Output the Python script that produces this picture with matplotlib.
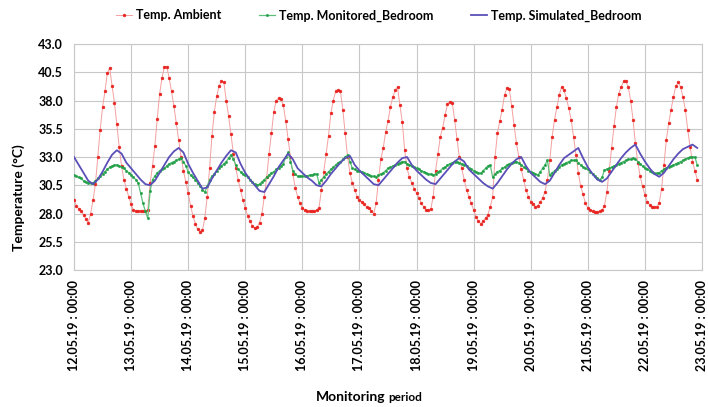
import matplotlib
matplotlib.use("Agg")
import matplotlib.pyplot as plt
import numpy as np

plt.rcParams['font.family'] = ['Lato', 'DejaVu Sans']

# hourly ambient temperature, one row per day (12.05 .. 22.05)
ambient = [
    29.2, 28.7, 28.4, 28.2, 27.9, 27.5, 27.2, 28.0, 29.2, 30.6, 33.0, 35.4, 37.4, 38.8, 40.4, 40.9, 39.3, 37.8, 35.9, 33.9, 32.2, 31.0, 30.2, 29.5,
    28.8, 28.3, 28.2, 28.2, 28.2, 28.2, 28.2, 28.3, 30.7, 32.2, 34.0, 36.4, 38.6, 40.0, 41.0, 41.0, 40.0, 38.8, 37.5, 36.0, 34.5, 33.0, 31.8, 30.8,
    29.8, 28.7, 27.8, 27.1, 26.6, 26.4, 26.5, 27.6, 29.5, 32.0, 34.9, 37.0, 38.4, 39.3, 39.7, 39.6, 38.0, 36.6, 35.0, 33.3, 32.0, 31.0, 30.1, 29.2,
    28.5, 27.8, 27.3, 26.9, 26.7, 26.8, 27.2, 28.0, 29.5, 31.2, 33.3, 35.1, 37.0, 38.0, 38.2, 38.1, 37.6, 36.2, 34.6, 33.0, 31.5, 30.3, 29.5, 28.9,
    28.5, 28.3, 28.2, 28.2, 28.2, 28.2, 28.3, 28.5, 30.1, 31.7, 33.3, 34.9, 36.9, 38.0, 38.8, 38.9, 38.8, 37.2, 35.1, 33.0, 31.6, 30.7, 30.1, 29.5,
    29.2, 29.0, 28.8, 28.6, 28.5, 28.2, 28.0, 28.9, 31.0, 32.8, 33.8, 35.2, 36.2, 37.4, 38.3, 38.9, 39.2, 37.6, 36.1, 33.6, 32.0, 31.2, 30.7, 30.2,
    29.8, 29.4, 28.9, 28.6, 28.3, 28.3, 28.4, 29.5, 31.8, 33.3, 34.8, 35.6, 36.7, 37.7, 37.9, 37.8, 36.3, 34.6, 33.0, 32.0, 31.0, 30.1, 29.5, 28.9,
    28.3, 27.7, 27.3, 27.1, 27.3, 27.6, 27.9, 28.6, 29.5, 33.0, 35.1, 36.2, 37.2, 38.5, 39.1, 39.0, 37.5, 35.8, 34.2, 33.0, 31.9, 31.0, 30.1, 29.5,
    29.05, 28.8, 28.6, 28.7, 29.0, 29.4, 29.9, 31.0, 32.7, 34.8, 36.3, 37.4, 38.5, 39.2, 38.9, 38.2, 37.3, 36.3, 34.8, 33.2, 31.6, 30.4, 29.7, 28.9,
    28.5, 28.3, 28.2, 28.1, 28.1, 28.2, 28.3, 28.7, 29.9, 31.8, 33.8, 35.7, 37.4, 38.6, 39.2, 39.7, 39.7, 39.2, 38.0, 36.3, 34.2, 32.5, 31.3, 30.4,
    29.65, 29.05, 28.75, 28.6, 28.6, 28.6, 28.9, 30.2, 32.3, 34.5, 36.0, 37.2, 38.3, 39.3, 39.6, 39.2, 38.3, 37.2, 35.4, 33.9, 32.6, 31.8, 31.0,
]

# hourly monitored bedroom temperature
monitored = [
    31.4, 31.3, 31.2, 31.1, 30.9, 30.8, 30.7, 30.7, 30.7, 30.9, 31.1, 31.3, 31.5, 31.7, 31.9, 32.1, 32.2, 32.3, 32.3, 32.2, 32.1, 32.0, 31.8, 31.6,
    31.4, 31.2, 31.0, 30.7, 29.8, 28.9, 28.2, 27.6, 30.0, 31.0, 31.3, 31.6, 31.8, 31.9, 32.0, 32.2, 32.4, 32.5, 32.6, 32.7, 32.8, 32.9, 32.6, 32.2,
    31.7, 31.4, 31.2, 31.0, 30.7, 30.4, 30.1, 29.9, 30.4, 31.0, 31.3, 31.5, 31.8, 32.0, 32.2, 32.4, 32.6, 32.9, 33.2, 32.8, 32.3, 31.9, 31.7, 31.5,
    31.4, 31.2, 31.0, 30.8, 30.6, 30.5, 30.6, 30.8, 31.0, 31.2, 31.4, 31.6, 31.7, 31.9, 32.0, 32.2, 32.4, 33.0, 33.4, 32.6, 31.8, 31.5, 31.3, 31.3,
    31.3, 31.3, 31.3, 31.4, 31.4, 31.5, 31.5, 30.7, 31.0, 31.2, 31.5, 31.7, 31.9, 32.1, 32.3, 32.5, 32.6, 32.8, 33.0, 33.2, 32.6, 32.0, 31.9, 31.8,
    31.8, 31.7, 31.6, 31.5, 31.4, 31.3, 31.3, 31.25, 31.4, 31.5, 31.6, 31.8, 32.0, 32.1, 32.2, 32.3, 32.4, 32.5, 32.6, 32.6, 32.4, 32.3, 32.2, 32.1,
    32.0, 31.9, 31.8, 31.7, 31.6, 31.5, 31.5, 31.4, 31.5, 31.7, 31.8, 32.0, 32.1, 32.3, 32.4, 32.5, 32.6, 32.6, 32.5, 32.4, 32.3, 32.2, 32.0, 31.9,
    31.8, 31.7, 31.6, 31.55, 31.8, 32.0, 32.2, 32.3, 31.2, 31.5, 31.7, 31.8, 32.0, 32.1, 32.3, 32.4, 32.5, 32.6, 32.6, 32.5, 32.3, 32.1, 32.0, 31.8,
    31.7, 31.6, 31.5, 31.4, 31.7, 32.0, 32.3, 32.7, 31.4, 31.6, 31.8, 31.9, 32.1, 32.3, 32.4, 32.5, 32.6, 32.7, 32.7, 32.7, 32.5, 32.3, 32.1, 32.0,
    31.9, 31.7, 31.5, 31.3, 31.1, 31.0, 31.2, 31.85, 31.9, 32.0, 32.1, 32.2, 32.3, 32.4, 32.5, 32.6, 32.7, 32.8, 32.8, 32.9, 32.8, 32.6, 32.4, 32.2,
    32.0, 31.9, 31.8, 31.7, 31.6, 31.55, 31.6, 31.8, 31.9, 32.0, 32.1, 32.2, 32.3, 32.4, 32.5, 32.6, 32.7, 32.8, 32.9, 33.0, 33.0, 33.0, 32.3,
]

# simulated bedroom temperature, every 2 hours
simulated = [
    33.0, 32.3, 31.6, 30.9, 30.6, 31.0, 31.7, 32.5, 33.2, 33.6, 33.3, 32.5,
    32.0, 31.5, 31.0, 30.6, 30.5, 30.9, 31.6, 32.3, 33.0, 33.5, 33.8, 33.4,
    32.4, 31.6, 30.9, 30.2, 30.3, 31.1, 31.8, 32.5, 33.1, 33.6, 33.4, 32.4,
    31.6, 31.0, 30.5, 30.0, 29.9, 30.6, 31.3, 32.1, 32.7, 33.3, 32.8, 32.0,
    31.6, 31.2, 30.9, 30.5, 30.4, 30.9, 31.5, 32.0, 32.5, 32.9, 33.1, 32.3,
    31.8, 31.4, 31.0, 30.6, 30.5, 31.0, 31.5, 32.0, 32.5, 32.9, 33.0, 32.3,
    31.8, 31.4, 31.0, 30.7, 30.6, 31.1, 31.6, 32.1, 32.6, 32.9, 32.6, 31.9,
    31.5, 31.1, 30.7, 30.4, 30.2, 30.7, 31.3, 31.9, 32.4, 32.8, 33.0, 32.2,
    31.6, 31.2, 30.8, 30.6, 30.9, 31.6, 32.3, 32.9, 33.2, 33.5, 33.8, 32.9,
    32.1, 31.5, 31.0, 30.8, 31.1, 31.7, 32.3, 32.9, 33.4, 33.8, 34.1, 33.3,
    32.6, 32.0, 31.5, 31.25, 31.6, 32.2, 32.8, 33.3, 33.7, 33.9, 34.1, 33.8,
]

day_labels = ["12.05.19 : 00:00", "13.05.19 : 00:00", "14.05.19 : 00:00",
              "15.05.19 : 00:00", "16.05.19 : 00:00", "17.05.19 : 00:00",
              "18.05.19 : 00:00", "19.05.19 : 00:00", "20.05.19 : 00:00",
              "21.05.19 : 00:00", "22.05.19 : 00:00", "23.05.19 : 00:00"]
y_ticks = [23.0, 25.5, 28.0, 30.5, 33.0, 35.5, 38.0, 40.5, 43.0]

# time in days since 12.05 00:00
t_amb = np.arange(len(ambient)) / 24.0
t_mon = np.arange(len(monitored)) / 24.0
t_sim = np.arange(len(simulated)) * 2 / 24.0

fig = plt.figure(figsize=(7.08, 4.07), dpi=100)
ax = fig.add_axes([74 / 708, 1 - 270 / 407, 628 / 708, 226 / 407])

ax.plot(t_amb, ambient, color='#f4a0a0', linewidth=0.7, marker='o',
        markersize=2.0, markerfacecolor='#e8231f', markeredgecolor='#e8231f',
        markeredgewidth=0.4, label='Temp. Ambient', zorder=3)
ax.plot(t_mon, monitored, color='#5cc07a', linewidth=0.9, marker='o',
        markersize=1.6, markerfacecolor='#1f9e45', markeredgecolor='#1f9e45',
        markeredgewidth=0.4, label='Temp. Monitored_Bedroom', zorder=4)
ax.plot(t_sim, simulated, color='#5a4fb8', linewidth=1.3,
        label='Temp. Simulated_Bedroom', zorder=5)

ax.set_xlim(0, 11)
ax.set_ylim(23, 43)
ax.set_xticks(range(len(day_labels)))
ax.set_xticklabels(day_labels, rotation=90, fontsize=9, fontweight='bold')
ax.set_yticks(y_ticks)
ax.set_yticklabels([f"{v:.1f}" for v in y_ticks], fontsize=9, fontweight='bold')
ax.tick_params(length=0)
ax.tick_params(axis='y', pad=8)
ax.tick_params(axis='x', pad=7)
ax.grid(True, color='#c8c8c8', linewidth=0.8)
ax.set_axisbelow(True)
for s in ax.spines.values():
    s.set_color('#c8c8c8')
    s.set_linewidth(0.8)

ax.set_ylabel("Temperature (°C)", fontsize=10, fontweight='bold')
ax.yaxis.set_label_coords(-0.078, 0.32)

fig.text(0.545, 0.015, "Monitoring", fontsize=10, fontweight='bold', ha='right', va='baseline')
fig.text(0.549, 0.015, "period", fontsize=8.5, fontweight='bold', ha='left', va='baseline')

fig.legend(loc='center', bbox_to_anchor=(0.535, 0.962), ncol=3, frameon=False,
           prop={'size': 9, 'weight': 'bold'}, handlelength=1.3,
           columnspacing=3.0, handletextpad=0.3)

fig.savefig("out.png", dpi=100)
